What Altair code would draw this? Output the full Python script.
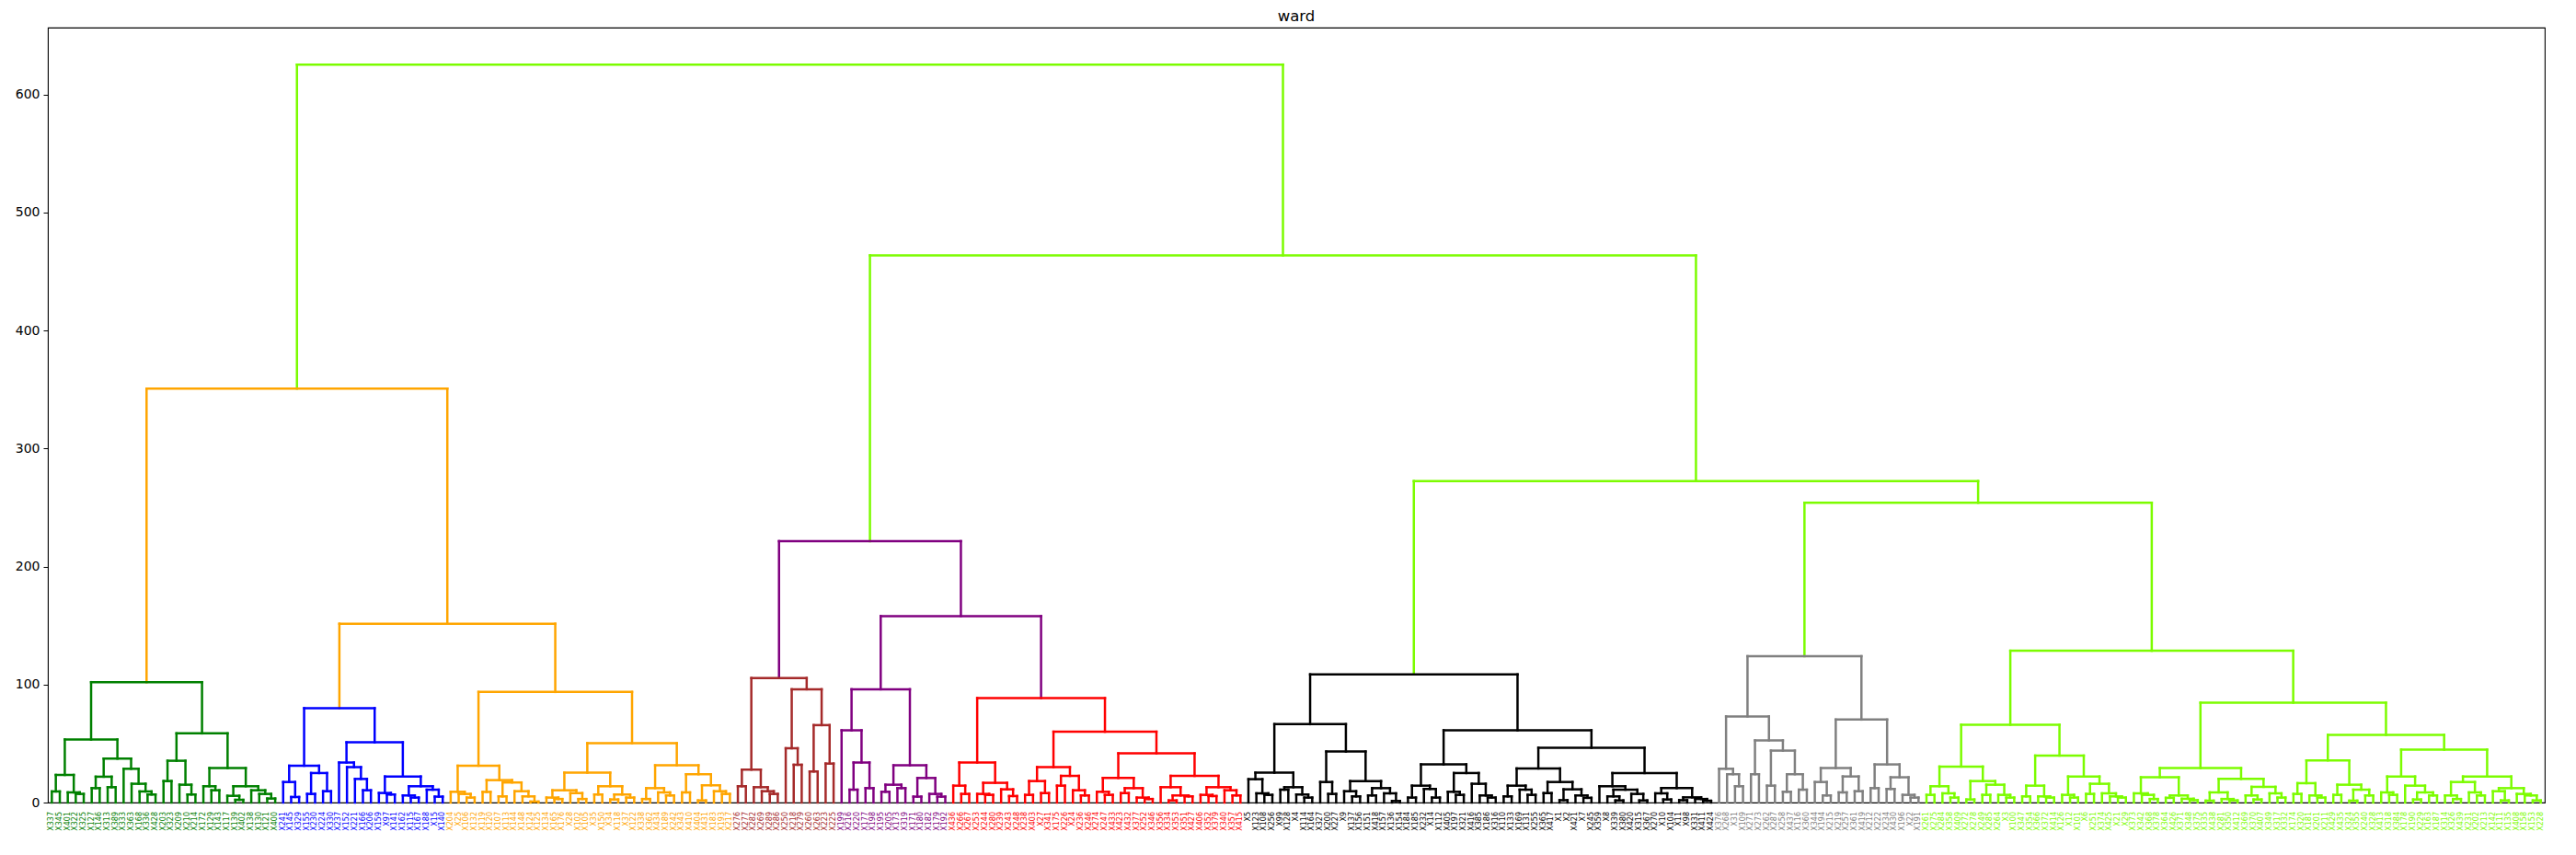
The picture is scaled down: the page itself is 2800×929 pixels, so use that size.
import altair as alt
import pandas as pd

TITLE = "ward"
Y_TICKS = [0, 100, 200, 300, 400, 500, 600]
Y_MAX = 656.6

# Cluster subtrees, written as nested pairs "(left,right)height"
GREEN = ("((((X337,X345)9.4,(X401,(X322,X325)7.3)8.6)23.4,(((X127,X146)12.2,(X313,X389)13)21.9,"
         "(X333,(X363,(X168,(X336,X428)6.8)9.4)15.9)28.6)37.2)53.4,(((X203,X323)18.2,(X209,(X210,X214)6.8)15.1)35.4,"
         "((X172,(X129,X143)10.4)13.8,((X117,(X139,X402)2.3)5.7,(X138,(X130,(X121,X400)3.4)7.3)10.4)13.8)29.2)58.6)102")
BLUE = ("(((X241,(X145,X329)4.7)17.4,((X155,X230)7.3,(X224,X330)9.6)25)31.2,((X237,(X152,(X221,(X166,X206)10.4)20)30)33.9,"
        "((X159,(X97,X141)6.8)8.1,((X162,(X115,X167)4.2)6,(X188,(X15,X140)5)10.9)13.8)22.1)51)80")
ORANGE = ("(((X204,(X25,(X106,X132)4.2)7.3)9.1,((X119,X120)9,((X107,X113)5.2,(X144,(X148,(X124,X125)0.8)5.2)9.6)17)19)31.2,"
          "((((X134,(X165,X176)3)4.2,(X28,(X102,X105)3)8)10.4,((X35,X150)6.8,((X34,X118)2.6,(X37,X122)4.2)6.8)13.8)25.3,"
          "(((X338,X362)3,(X434,(X189,X242)6)8.6)12.2,((X343,X410)8.6,((X404,X431)1.8,(X183,(X193,X217)7.3)9.6)14.6)24)31.5)50.3)93.7")
BROWN = ("(((X276,X277)13.8,(X282,(X269,(X289,X286)7.3)9.6)13)27.9,((X250,(X218,X279)32)46,"
         "((X260,X263)26.3,(X223,X225)33)65.6)96)105.5")
PURPLE = ("((X199,((X216,X220)10.9,(X177,X198)12.2)33.9)61.2,(((X195,X205)9.1,(X173,X319)12.2)15.1,"
          "((X171,X180)5,(X182,(X179,X192)5)7.3)20.8)31.5)96")
RED = ("(((X436,(X266,X267)7.3)14.3,((X253,(X244,X280)6.5)7.3,(X239,(X243,X248)5.5)11.2)16.7)33.9,"
       "((((X238,X403)6.5,(X27,X341)8)18.2,((X175,X226)14.3,(X24,(X236,X246)6)10.4)22.6)30,"
       "(((X274,(X247,X433)6.5)9.1,((X423,X432)8,(X377,(X252,X346)3)4.2)12.2)20.8,"
       "((X356,((X334,X353)1.8,(X351,X427)5.2)6)13,((X406,(X352,X379)5.5)6.5,(X340,(X357,X415)6)10.4)13)22.6)41.7)60)88.5")
BLACK = ("((((X5,(X123,(X108,X256)6.5)7.8)19.8,((X99,X128)10.9,(X4,(X114,X164)4.2)6.8)13)25.3,"
         "((X327,(X200,X227)7.3)17.4,((X9,(X137,X156)5.2)9.6,((X151,X418)6,(X157,(X136,X154)1.3)7.8)12.2)18.2)43.2)66.4,"
         "((((X184,X185)4.2,(X232,(X14,X112)4.2)11.5)14.3,((X405,(X197,X321)6.5)9.1,(X416,(X385,(X186,X316)4.2)6)15.9)25)32.3,"
         "((((X110,X133)5.2,(X169,(X131,X255)6.5)10.9)14.3,((X365,X417)8,((X1,X2)2,(X421,(X7,X245)4)6)11.2)17.4)28.9,"
         "((X359,((X8,(X339,X380)1.8)5.2,(X420,(X315,X367)1.8)7.3)10.9)13.8,"
         "((X270,(X10,X104)2.6)7.8,((X11,X98)2,(X331,(X411,X424)1.5)3)4.4)12.2)25)46.4)61.2)108.6")
GRAY = ("(((X376,(X268,(X31,X109)13.8)24)28.6,((X271,X273)24,((X262,X287)14.3,((X258,X437)9.1,(X116,X360)10.9)24)44)52.6)73,"
        "(((X344,(X194,X215)6)17.4,((X219,X257)8.6,(X361,X419)9.6)22.1)29.2,"
        "((X212,X222)12.2,((X234,X430)11.5,(X196,(X22,X191)4.2)6.5)21.4)32.3)70.3)124")
LAWN = ("(((((X261,X275)6.5,(X284,(X358,X409)4.2)7.8)13.8,((X272,X278)2.6,((X249,X285)6.5,(X264,(X3,X100)4.2)6.5)15.1)18.2)30.5,"
        "(((X347,X354)5.2,(X366,(X372,X414)4.2)5.2)14.3,((X126,(X12,X101)4.2)6.5,((X6,X251)7.3,(X374,(X425,(X21,X29)4.2)5.2)7.8)15.9)22.1)39.8)65.9,"
        "((((X373,(X342,(X368,X378)3)6.5)7.8,((X364,X426)4,(X371,(X348,X375)2)3.2)6)21.4,"
        "(((X335,X438)1.6,(X281,(X350,X412)1.8)3)8.6,((X369,(X370,X407)2.6)6,(X349,(X317,X332)4.2)7.8)13.3)20)29.2,"
        "((((X174,X320)7.3,(X181,(X201,X211)4.2)6)16.4,((X429,X435)6.5,((X324,X355)1.6,(X240,X328)6)10.9)15.1)35.7,"
        "(((X413,(X318,X384)6.5)8.6,(X178,((X190,X229)2.6,(X163,X187)6)8.6)14.3)22.1,"
        "(((X314,(X326,X439)3)6,(X231,(X202,X213)6)8.6)17.4,((X142,(X111,X135)1.8)9.6,(X408,(X158,(X153,X228)1.8)6)7.3)12.2)22.1)44.8)57.3)84.6)128.6")

CLUSTERS = {"GREEN": (GREEN, "green"), "BLUE": (BLUE, "blue"), "ORANGE": (ORANGE, "orange"),
            "BROWN": (BROWN, "brown"), "PURPLE": (PURPLE, "purple"), "RED": (RED, "red"),
            "BLACK": (BLACK, "black"), "GRAY": (GRAY, "gray"), "LAWN": (LAWN, "lawngreen")}

TOP = ("((GREEN,(BLUE,ORANGE)151.5:orange)350.8:orange,((BROWN,(PURPLE,RED)158:purple)221.5:purple,"
       "(BLACK,(GRAY,LAWN)254:lawngreen)272.4:lawngreen)463.5:lawngreen)625.3:lawngreen")


def parse(s, color, subtrees):
    pos = 0

    def node():
        nonlocal pos
        if s[pos] == "(":
            pos += 1
            a = node()
            pos += 1  # ','
            b = node()
            pos += 1  # ')'
            j = pos
            while j < len(s) and (s[j].isdigit() or s[j] == "."):
                j += 1
            h = float(s[pos:j])
            pos = j
            c = color
            if pos < len(s) and s[pos] == ":":
                j = pos + 1
                while j < len(s) and s[j].isalpha():
                    j += 1
                c = s[pos + 1:j]
                pos = j
            return {"kids": [a, b], "h": h, "color": c}
        j = pos
        while j < len(s) and s[j] not in ",()":
            j += 1
        name = s[pos:j]
        pos = j
        if name in subtrees:
            return subtrees[name]
        return {"name": name, "h": 0.0, "color": color}

    return node()


subs = {k: parse(v[0], v[1], {}) for k, v in CLUSTERS.items()}
root = parse(TOP, "lawngreen", subs)

leaves = []


def place(n):
    if "kids" not in n:
        n["x"] = 10 * len(leaves) + 5
        leaves.append(n)
        return
    for k in n["kids"]:
        place(k)
    n["x"] = (n["kids"][0]["x"] + n["kids"][1]["x"]) / 2


place(root)

segs = []


def walk(n):
    if "kids" not in n:
        return
    a, b = n["kids"]
    c = n["color"]
    segs.append((a["x"], a["x"], a["h"], n["h"], c))
    segs.append((a["x"], b["x"], n["h"], n["h"], c))
    segs.append((b["x"], b["x"], b["h"], n["h"], c))
    walk(a)
    walk(b)


walk(root)

seg_df = pd.DataFrame(segs, columns=["x", "x2", "y", "y2", "color"])
leaf_df = pd.DataFrame({"x": [l["x"] for l in leaves],
                        "label": [l["name"] for l in leaves],
                        "color": [l["color"] for l in leaves]})

N = len(leaves)
W, H = 2714, 842
xscale = alt.Scale(domain=[0, 10 * N], nice=False, zero=False)
yscale = alt.Scale(domain=[0, Y_MAX], nice=False, zero=True)

links = alt.Chart(seg_df).mark_rule(strokeWidth=2.5, strokeCap="square").encode(
    x=alt.X("x:Q", scale=xscale, axis=None),
    x2="x2:Q",
    y=alt.Y("y:Q", scale=yscale,
            axis=alt.Axis(values=Y_TICKS, title=None, grid=False, domain=False,
                          tickSize=5, tickColor="black", labelFontSize=14,
                          labelFont="DejaVu Sans", labelColor="black", labelPadding=4)),
    y2="y2:Q",
    color=alt.Color("color:N", scale=None),
)

labels = alt.Chart(leaf_df).mark_text(angle=270, align="right", baseline="middle",
                                      font="DejaVu Sans", fontSize=8).encode(
    x=alt.X("x:Q", scale=xscale, axis=None),
    y=alt.value(H + 10),
    text="label:N",
    color=alt.Color("color:N", scale=None),
)

title = alt.Chart(pd.DataFrame({"t": [TITLE]})).mark_text(
    align="center", baseline="alphabetic", font="DejaVu Sans", fontSize=16.5, color="black"
).encode(
    x=alt.value(W / 2),
    y=alt.value(-7),
    text="t:N",
)

chart = alt.layer(links, labels, title).properties(
    width=W, height=H,
    autosize=alt.AutoSizeParams(type="none"),
    padding={"left": 44, "top": 22, "right": 26, "bottom": 50},
).configure_view(stroke="black", strokeWidth=1.1)

chart.save("out.html", embed_options={"renderer": "svg", "actions": False})
